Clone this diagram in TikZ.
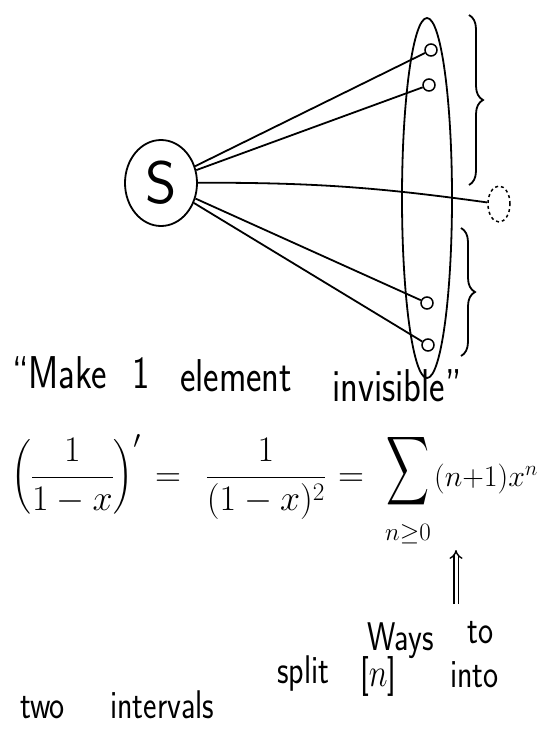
\RequirePackage{fix-cm}
\documentclass[tikz,border=0pt]{standalone}
\usepackage{amsmath}
\usepackage{graphicx}
\usepackage{fontspec}
\usetikzlibrary{shapes.geometric,decorations.pathreplacing,arrows.meta}
\newcommand{\hwtext}[1]{\scalebox{0.8}[1]{#1}}
\tikzset{
  ink/.style={line width=1.8pt, black},
  word/.style={inner sep=0pt, anchor=base west, font=\fontsize{46}{46}\selectfont\sffamily},
  lowword/.style={inner sep=0pt, anchor=base west, font=\fontsize{40}{40}\selectfont\sffamily},
  mathpart/.style={inner sep=0pt, anchor=base, font=\fontsize{36}{36}\selectfont},
  elem/.style={circle, draw, line width=1.5pt, minimum size=12pt, inner sep=0pt},
  bracepath/.style={ink, decorate, decoration={brace, amplitude=14pt}},
}
\begin{document}
\begin{tikzpicture}[x=1pt,y=1pt]
\useasboundingbox (0,0) rectangle (548,-740);
% diagram
\node[ellipse, draw, ink, minimum width=72pt, minimum height=86pt, inner sep=0pt,
      font=\fontsize{60}{60}\selectfont\sffamily] (S) at (161,-183) {S};
\draw[ink] (427,-198) ellipse [x radius=25, y radius=180];
\node[elem] (e1) at (431,-50) {};
\node[elem] (e2) at (429,-85) {};
\node[elem] (e3) at (427,-303) {};
\node[elem] (e4) at (428,-345) {};
\node[ellipse, draw, dashed, line width=1.5pt, minimum width=22pt, minimum height=36pt,
      inner sep=0pt] (inv) at (499,-204) {};
\draw[ink] (S) -- (e1);
\draw[ink] (S) -- (e2);
\draw[ink] (S) to[bend left=4] (inv);
\draw[ink] (S) -- (e3);
\draw[ink] (S) -- (e4);
% braces
\coordinate (b1s) at (469,-15);
\coordinate (b1e) at (469,-185);
\coordinate (b2s) at (461,-228);
\coordinate (b2e) at (461,-356);
\draw[bracepath] (b1s) -- (b1e);
\draw[bracepath] (b2s) -- (b2e);
% first text line
\node[word] (w1) at (12,-388) {\hwtext{\textquotedblleft Make}};
\node[word] (w2) at (132,-388) {\hwtext{1}};
\node[word] (w3) at (180,-391) {\hwtext{element}};
\node[word] (w4) at (332,-401) {\hwtext{invisible\textquotedblright}};
% equation
\node[mathpart] (lhs) at (76,-486) {$\displaystyle\left(\frac{1}{1-x}\right)'$};
\node[mathpart] (eq1) at (168,-486) {$=$};
\node[mathpart] (mid) at (266,-486) {$\displaystyle\frac{1}{(1-x)^2}$};
\node[mathpart] (eq2) at (351,-486) {$=$};
\node[inner sep=0pt] (sum) at (408,-471) {\resizebox*{43pt}{77pt}{$\displaystyle\sum$}};
\node[inner sep=0pt, anchor=base, font=\fontsize{25}{25}\selectfont] (sub) at (408,-540) {$n{\geq}0$};
\node[inner sep=0pt, anchor=base west, font=\fontsize{30}{30}\selectfont] (term) at (434,-486) {$(n{+}1)x^n$};
% arrow
\coordinate (abot) at (456,-604);
\coordinate (atop) at (456,-550);
\draw[line width=1.4pt, double, double distance=3pt, -{Implies}] (abot) -- (atop);
% bottom text
\node[lowword] (t1) at (367,-650) {\hwtext{Ways}};
\node[lowword] (t2) at (467,-643) {\hwtext{to}};
\node[lowword] (t3) at (277,-683) {\hwtext{split}};
\node[lowword] (t4) at (360,-686) {\hwtext{[$n$]}};
\node[lowword] (t5) at (450,-687) {\hwtext{into}};
\node[lowword] (t6) at (20,-718) {\hwtext{two}};
\node[lowword] (t7) at (110,-718) {\hwtext{intervals}};
\end{tikzpicture}
\end{document}
